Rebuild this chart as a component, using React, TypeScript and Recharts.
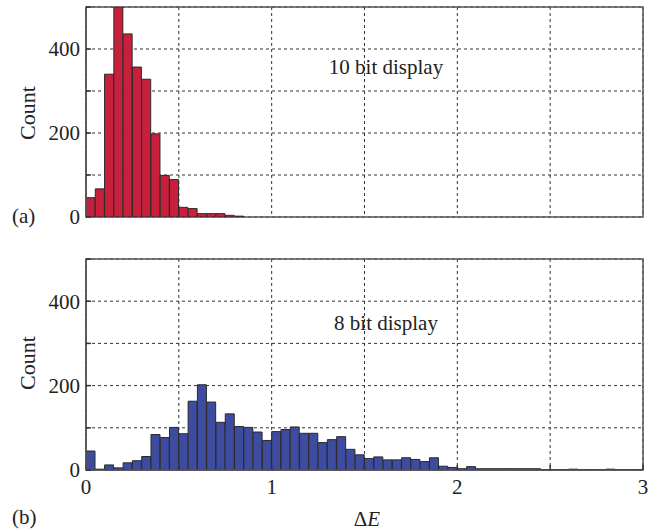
import React from 'react';
import { BarChart, Bar, XAxis, YAxis, CartesianGrid, ReferenceArea } from 'recharts';

// Bin centres of ΔE (bin width 0.05)
const binCenters = [
  0.025, 0.075, 0.125, 0.175, 0.225, 0.275, 0.325, 0.375, 0.425, 0.475,
  0.525, 0.575, 0.625, 0.675, 0.725, 0.775, 0.825, 0.875, 0.925, 0.975,
  1.025, 1.075, 1.125, 1.175, 1.225, 1.275, 1.325, 1.375, 1.425, 1.475,
  1.525, 1.575, 1.625, 1.675, 1.725, 1.775, 1.825, 1.875, 1.925, 1.975,
  2.025, 2.075, 2.125, 2.175, 2.225, 2.275, 2.325, 2.375, 2.425, 2.475,
  2.525, 2.575, 2.625, 2.675, 2.725, 2.775, 2.825, 2.875, 2.925, 2.975,
];

const counts10bit = [
  46, 67, 340, 500, 436, 357, 328, 198, 99, 89,
  23, 20, 8, 8, 8, 4, 2, 0, 0, 0,
  0, 0, 0, 0, 0, 0, 0, 0, 0, 0,
  0, 0, 0, 0, 0, 0, 0, 0, 0, 0,
  0, 0, 0, 0, 0, 0, 0, 0, 0, 0,
  0, 0, 0, 0, 0, 0, 0, 0, 0, 0,
];

const counts8bit = [
  45, 2, 12, 5, 17, 22, 32, 84, 77, 101,
  86, 163, 202, 161, 113, 133, 103, 101, 90, 70,
  91, 96, 102, 87, 87, 65, 72, 79, 49, 36,
  27, 31, 24, 24, 29, 25, 20, 29, 9, 6,
  3, 8, 3, 3, 3, 3, 3, 3, 3, 1,
  1, 1, 2, 1, 1, 1, 2, 1, 1, 1,
];

const xTicks = [0, 0.5, 1, 1.5, 2, 2.5, 3];
const yTicks = [0, 100, 200, 300, 400, 500];

const data10 = binCenters.map((x, i) => ({ x, count: counts10bit[i] }));
const data8 = binCenters.map((x, i) => ({ x, count: counts8bit[i] }));

const FONT = '"Liberation Serif", "DejaVu Serif", serif';
const tickStyle = { fontFamily: FONT, fontSize: 21, fill: '#222' };

const yFmt = (v: number) => (v % 200 === 0 && v < 500 ? String(v) : '');
const xFmt = (v: number) => (Number.isInteger(v) ? String(v) : '');
const blank = () => '';

function Panel({ data, color, showX, height, marginTop }: { data: any[]; color: string; showX: boolean; height: number; marginTop: number }) {
  return (
    <BarChart
      width={655}
      height={height}
      data={data}
      margin={{ top: marginTop, right: 12, bottom: showX ? 30 : 13, left: 0 }}
      barCategoryGap={0}
      barGap={0}
    >
      <CartesianGrid stroke="#333" strokeDasharray="3 3" strokeWidth={1} />
      <XAxis
        dataKey="x"
        type="number"
        domain={[0, 3]}
        ticks={xTicks}
        interval={0}
        height={showX ? 30 : 0}
        axisLine={{ stroke: '#555', strokeWidth: 1.5 }}
        tickLine={{ stroke: '#333', strokeWidth: 1.5 }}
        tickSize={-5}
        tickMargin={14}
        tick={tickStyle}
        tickFormatter={showX ? xFmt : blank}
        allowDataOverflow
      />
      <YAxis
        type="number"
        domain={[0, 500]}
        ticks={yTicks}
        interval={0}
        width={86}
        axisLine={{ stroke: '#555', strokeWidth: 1.5 }}
        tickLine={{ stroke: '#333', strokeWidth: 1.5 }}
        tickSize={-5}
        tickMargin={11}
        tick={tickStyle}
        tickFormatter={yFmt}
        allowDataOverflow
      />
      <YAxis
        yAxisId="r"
        orientation="right"
        type="number"
        domain={[0, 500]}
        ticks={yTicks}
        interval={0}
        width={0}
        axisLine={{ stroke: '#555', strokeWidth: 1.5 }}
        tickLine={{ stroke: '#333', strokeWidth: 1.5 }}
        tickSize={-5}
        tick={tickStyle}
        tickFormatter={blank}
      />
      <Bar dataKey="count" fill={color} stroke="#2a2a2a" strokeWidth={1} isAnimationActive={false} />
      <ReferenceArea x1={0} x2={3} y1={0} y2={500} fill="none" stroke="#555" strokeWidth={1.5} />
    </BarChart>
  );
}

export default function App() {
  return (
    <div style={{ position: 'absolute', left: 0, top: 0, width: 655, height: 530, background: '#fff' }}>
      <div style={{ position: 'absolute', left: 0, top: 0 }}>
        <Panel data={data10} color="#c8203c" showX={false} height={230} marginTop={7} />
      </div>
      <div style={{ position: 'absolute', left: 0, top: 240 }}>
        <Panel data={data8} color="#3d4c9e" showX={true} height={290} marginTop={19} />
      </div>
      <svg width={655} height={530} style={{ position: 'absolute', left: 0, top: 0, pointerEvents: 'none' }}>
        <g fontFamily={FONT} fill="#222">
          <text x={386} y={74} fontSize={21} textAnchor="middle">10 bit display</text>
          <text x={386} y={330} fontSize={21} textAnchor="middle">8 bit display</text>
          <text x={35} y={113} fontSize={22} textAnchor="middle" transform="rotate(-90 35 113)">Count</text>
          <text x={35} y={363} fontSize={22} textAnchor="middle" transform="rotate(-90 35 363)">Count</text>
          <text x={12} y={223} fontSize={21}>(a)</text>
          <text x={12} y={524} fontSize={21}>(b)</text>
          <text x={367} y={526} fontSize={21} textAnchor="middle">Δ<tspan fontStyle="italic">E</tspan></text>
        </g>
      </svg>
    </div>
  );
}
